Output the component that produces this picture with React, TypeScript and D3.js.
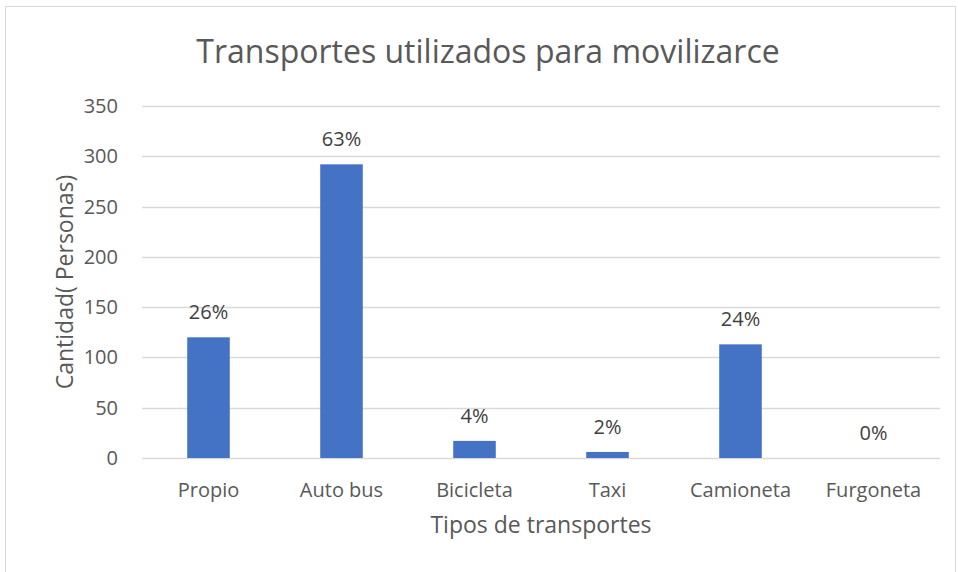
import React, { useRef, useEffect } from "react";
import * as d3 from "d3";

const categories = ["Propio", "Auto bus", "Bicicleta", "Taxi", "Camioneta", "Furgoneta"];
const values = [120, 292, 17, 6, 113, 0];
const pctLabels = ["26%", "63%", "4%", "2%", "24%", "0%"];
const yTicks = [0, 50, 100, 150, 200, 250, 300, 350];

const W = 958;
const H = 572;
const FONT = "'Open Sans', 'Noto Sans', sans-serif";

export default function App() {
  const svgRef = useRef<SVGSVGElement>(null);

  useEffect(() => {
    if (!svgRef.current) return;
    const svg = d3.select(svgRef.current);
    svg.selectAll("*").remove();

    const margin = { top: 106, right: 18, bottom: 114, left: 142 };
    const plotW = W - margin.left - margin.right;
    const plotH = H - margin.top - margin.bottom;

    // outer chart frame
    svg.append("rect")
      .attr("x", 5.5).attr("y", 6.5)
      .attr("width", W - 8).attr("height", H - 4)
      .attr("fill", "#fff").attr("stroke", "#d9d9d9");

    svg.append("text")
      .attr("x", 488).attr("y", 63)
      .attr("text-anchor", "middle")
      .attr("font-family", FONT).attr("font-size", 32)
      .attr("fill", "#595959")
      .text("Transportes utilizados para movilizarce");

    const g = svg.append("g").attr("transform", `translate(${margin.left},${margin.top})`);

    const x = d3.scaleBand<string>().domain(categories).range([0, plotW]).paddingInner(0.68).paddingOuter(0.34);
    const y = d3.scaleLinear().domain([0, 350]).range([plotH, 0]);

    g.selectAll("line.grid")
      .data(yTicks)
      .join("line")
      .attr("class", "grid")
      .attr("x1", 0).attr("x2", plotW)
      .attr("y1", d => Math.round(y(d)) + 0.5).attr("y2", d => Math.round(y(d)) + 0.5)
      .attr("stroke", "#d9d9d9").attr("stroke-width", 1.3);

    g.selectAll("text.ytick")
      .data(yTicks)
      .join("text")
      .attr("class", "ytick")
      .attr("x", -24).attr("y", d => y(d))
      .attr("dy", "0.35em")
      .attr("text-anchor", "end")
      .attr("font-family", FONT).attr("font-size", 20)
      .attr("fill", "#595959")
      .text(d => d);

    g.selectAll("rect.bar")
      .data(values)
      .join("rect")
      .attr("class", "bar")
      .attr("x", (d, i) => x(categories[i]) as number)
      .attr("width", x.bandwidth())
      .attr("y", d => y(d))
      .attr("height", d => plotH - y(d))
      .attr("fill", "#4472c4");

    g.selectAll("text.lbl")
      .data(values)
      .join("text")
      .attr("class", "lbl")
      .attr("x", (d, i) => (x(categories[i]) as number) + x.bandwidth() / 2)
      .attr("y", d => y(d) - 18)
      .attr("text-anchor", "middle")
      .attr("font-family", FONT).attr("font-size", 20)
      .attr("fill", "#404040")
      .text((d, i) => pctLabels[i]);

    g.selectAll("text.xtick")
      .data(categories)
      .join("text")
      .attr("class", "xtick")
      .attr("x", d => (x(d) as number) + x.bandwidth() / 2)
      .attr("y", plotH + 39)
      .attr("text-anchor", "middle")
      .attr("font-family", FONT).attr("font-size", 20)
      .attr("fill", "#595959")
      .text(d => d);

    svg.append("text")
      .attr("x", 541).attr("y", 533)
      .attr("text-anchor", "middle")
      .attr("font-family", FONT).attr("font-size", 23)
      .attr("fill", "#595959")
      .text("Tipos de transportes");

    svg.append("text")
      .attr("transform", `translate(73,${margin.top + plotH / 2}) rotate(-90)`)
      .attr("text-anchor", "middle")
      .attr("font-family", FONT).attr("font-size", 23)
      .attr("fill", "#595959")
      .text("Cantidad( Personas)");
  }, []);

  return (
    <svg ref={svgRef} width={W} height={H} style={{ position: "absolute", left: 0, top: 0, background: "#fff" }} />
  );
}
